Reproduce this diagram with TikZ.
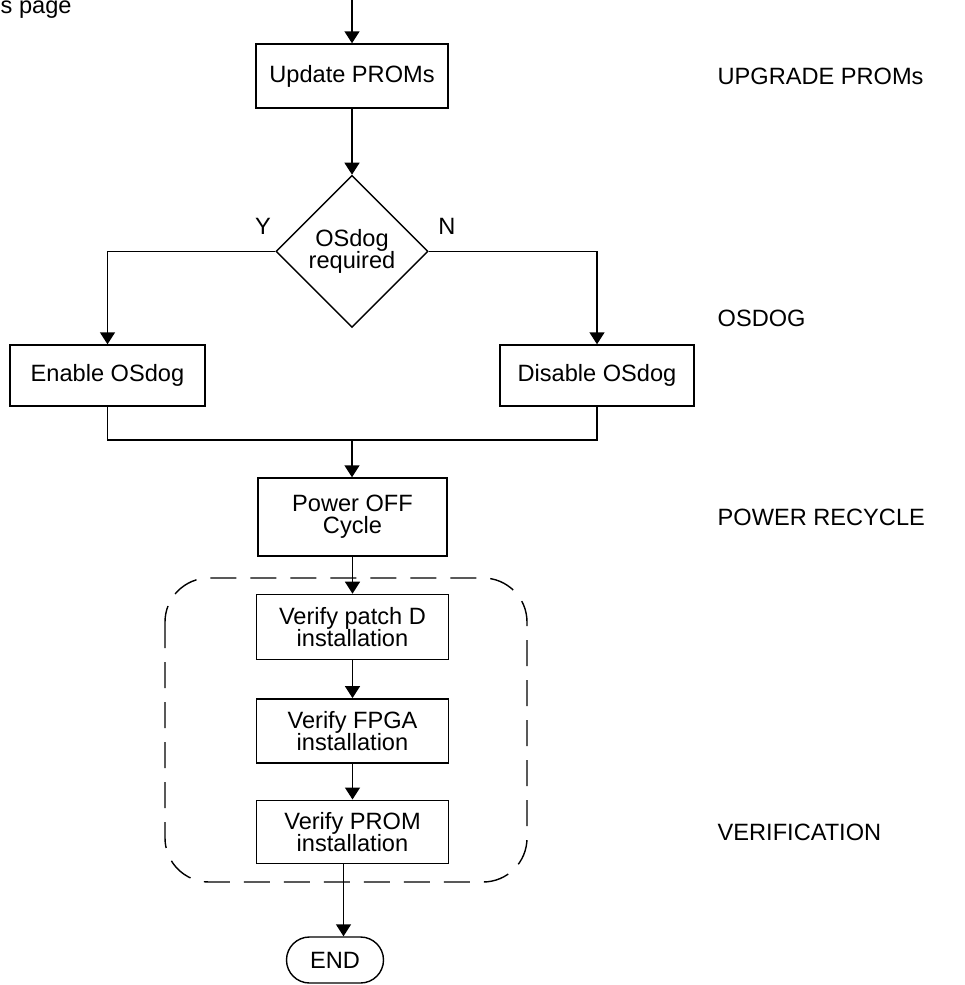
\documentclass[tikz,border=0pt]{standalone}
\usepackage{fontspec}
\setmainfont{Liberation Sans}
\usepackage[]{tikz}
\usetikzlibrary{positioning,shapes,arrows.meta}

\tikzset{
  stepbox/.style={draw, rectangle, align=center, inner sep=2pt,
    minimum width=96pt, minimum height=32pt},
  decbox/.style={draw, diamond, aspect=1, align=center, inner sep=0pt,
    minimum size=76pt},
  endbox/.style={draw, rectangle, rounded corners=11.5pt,
    minimum width=48.5pt, minimum height=23pt},
  phase/.style={anchor=west, inner sep=0pt},
}

\begin{document}
\begin{tikzpicture}[x=0.5pt, y=-0.5pt, line width=0.7pt,
    >={Triangle[length=6pt,width=7.5pt]},
    font=\fontsize{11.8}{11}\selectfont, node distance=19pt]
        \useasboundingbox (0,0) rectangle (964,985);
        \node (spage) [anchor=base west, inner sep=0pt] at (0,13) {s page};
        \coordinate (top) at (352,0);
        \node (upd) [stepbox] at (352,76) {Update PROMs};
        \node (dec) [decbox, below=33pt of upd] {OSdog\\required};
        \node (ylbl) at (263,226) {Y};
        \node (nlbl) at (447,226) {N};
        \node (en) [stepbox, minimum width=97.5pt, minimum height=30.5pt] at (107.5,375.5) {Enable OSdog};
        \node (dis) [stepbox, minimum width=97pt, minimum height=30.5pt] at (597,375.5) {Disable OSdog};
        \coordinate (mrg) at (352,440);
        \node (pow) [stepbox, minimum width=94.5pt, minimum height=39pt] at (352.5,517) {Power OFF\\Cycle};
        \node (vp) [stepbox, minimum height=32.5pt, below=18.5pt of pow] {Verify patch D\\installation};
        \node (vf) [stepbox, below=of vp] {Verify FPGA\\installation};
        \node (vpr) [stepbox, minimum height=31.5pt, below=18pt of vf] {Verify PROM\\installation};
        \node (endn) [endbox] at (335,960) {END};
        % phase labels
        \node (lblupg) [phase] at (717,76) {UPGRADE PROMs};
        \node (lblosd) [phase] at (717,318) {OSDOG};
        \node (lblpow) [phase] at (717,517) {POWER RECYCLE};
        \node (lblver) [phase] at (717,832) {VERIFICATION};
        %\node (grp) [fit=(vp) (vpr)] {};
        \draw[dashed, dash pattern=on 13pt off 7pt, rounded corners=22pt] (165,578) rectangle (527,882);
        \draw[->] (top) -- (upd);
        \draw[->] (upd) -- (dec);
        \draw[->] (dec.west) -| (en.north);
        \draw[->] (dec.east) -| (dis.north);
        \draw (en.south) |- (mrg) -| (dis.south);
        \draw[->] (mrg) -- (mrg |- pow.north);
        \draw[->] (pow) -- (vp);
        \draw[->] (vp) -- (vf);
        \draw[->] (vf) -- (vpr);
        \draw[->] ([xshift=-4.5pt]vpr.south) -- ([xshift=-4.5pt]vpr.south |- endn.north);
    \end{tikzpicture}
\end{document}
